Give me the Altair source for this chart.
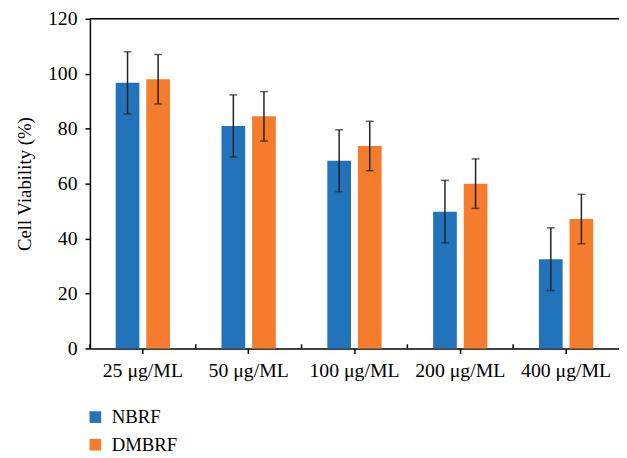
import altair as alt
import pandas as pd

concentrations = ["25 μg/ML", "50 μg/ML", "100 μg/ML", "200 μg/ML", "400 μg/ML"]
series_names = ["NBRF", "DMBRF"]
nbrf = [96.7, 81.0, 68.3, 49.8, 32.5]
nbrf_err = [11.3, 11.3, 11.3, 11.4, 11.4]
dmbrf = [98.0, 84.5, 73.7, 60.0, 47.1]
dmbrf_err = [9.0, 9.0, 9.0, 9.0, 9.0]
colors = ["#2273B9", "#F47C2C"]

rows = []
for i, c in enumerate(concentrations):
    rows.append({"conc": c, "series": "NBRF", "value": nbrf[i],
                 "lo": nbrf[i] - nbrf_err[i], "hi": nbrf[i] + nbrf_err[i]})
    rows.append({"conc": c, "series": "DMBRF", "value": dmbrf[i],
                 "lo": dmbrf[i] - dmbrf_err[i], "hi": dmbrf[i] + dmbrf_err[i]})
df = pd.DataFrame(rows)
bounds = pd.DataFrame({"conc": concentrations})

W, H = 536, 334
FONT = "Liberation Serif"

xscale = alt.Scale(domain=concentrations, paddingInner=0, paddingOuter=0)
xoff = alt.XOffset("series:N", sort=series_names,
                   scale=alt.Scale(domain=series_names, paddingInner=0.226, paddingOuter=0.842))
yscale = alt.Scale(domain=[0, 120])

x_axis = alt.Axis(labelAngle=0, labelFont=FONT, labelFontSize=20, labelColor="black",
                  labelPadding=7, tickSize=5, tickColor="black", tickWidth=1.5,
                  domainColor="black", domainWidth=1.5, grid=False)


def xenc(**kw):
    return alt.X("conc:N", sort=concentrations, scale=xscale, title=None, axis=x_axis, **kw)


y_main = alt.Y("value:Q", scale=yscale, title="Cell Viability (%)",
               axis=alt.Axis(values=[0, 20, 40, 60, 80, 100, 120], labelFont=FONT, labelFontSize=20,
                             labelColor="black", labelPadding=8, tickSize=5, tickColor="black",
                             tickWidth=1.5, domainColor="black", domainWidth=1.5, grid=False,
                             titleFont=FONT, titleFontSize=19, titleFontWeight="normal",
                             titleColor="black", titlePadding=13))

bars = alt.Chart(df).mark_bar(width=24).encode(
    x=xenc(),
    xOffset=xoff,
    y=y_main,
    color=alt.Color("series:N", sort=series_names,
                    scale=alt.Scale(domain=series_names, range=colors),
                    legend=alt.Legend(title=None, orient="none", legendX=-4, legendY=394,
                                      direction="vertical", symbolType="square", symbolSize=140,
                                      symbolStrokeWidth=0, labelFont=FONT, labelFontSize=19,
                                      labelColor="black", rowPadding=8, padding=0, labelOffset=7)),
)

minor_ticks = alt.Chart(bounds).mark_rule(color="black", strokeWidth=1.5).encode(
    x=xenc(bandPosition=0),
    y=alt.datum(0, scale=yscale), y2=alt.datum(1.5))

err_rule = alt.Chart(df).mark_rule(color="#222", strokeWidth=1.5).encode(
    x=xenc(), xOffset=xoff,
    y=alt.Y("lo:Q", scale=yscale), y2="hi:Q")
cap_lo = alt.Chart(df).mark_tick(color="#222", size=8, thickness=1.5).encode(
    x=xenc(), xOffset=xoff,
    y=alt.Y("lo:Q", scale=yscale))
cap_hi = alt.Chart(df).mark_tick(color="#222", size=8, thickness=1.5).encode(
    x=xenc(), xOffset=xoff,
    y=alt.Y("hi:Q", scale=yscale))

top_line = alt.Chart(pd.DataFrame({"top": [120]})).mark_rule(color="black", strokeWidth=1.5).encode(
    y=alt.Y("top:Q", scale=yscale))

chart = alt.layer(bars, minor_ticks, err_rule, cap_lo, cap_hi, top_line).properties(
    width=W, height=H,
    autosize=alt.AutoSizeParams(type="none"),
    padding={"left": 83, "top": 8, "right": 0, "bottom": 106},
).configure_view(stroke=None)

chart.save("out.html", embed_options={"renderer": "svg", "actions": False})
